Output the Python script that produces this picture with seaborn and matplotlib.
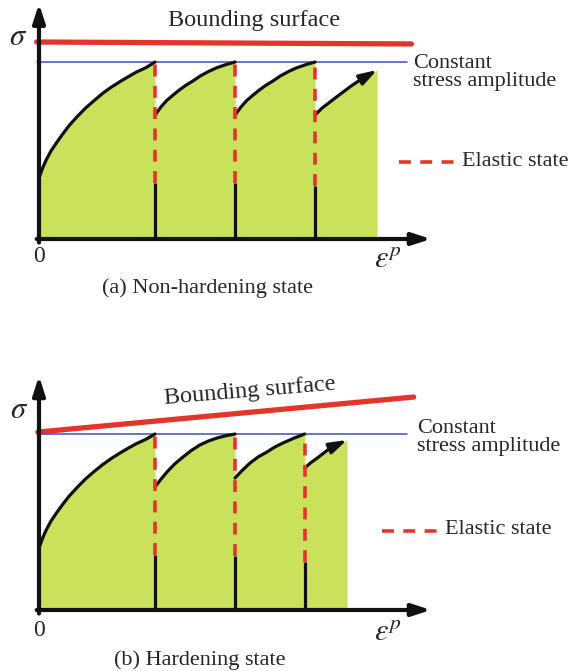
import matplotlib
matplotlib.use("Agg")
import matplotlib.pyplot as plt
import seaborn as sns

sns.set_theme(style="white")
plt.rcParams["font.family"] = ["Liberation Serif", "DejaVu Serif"]
plt.rcParams["mathtext.fontset"] = "stix"

GREEN = "#c9e15b"
RED = "#e5352b"
BLUE = "#3a4cc0"
INK = "#111111"

# ---- panel (a): non-hardening state -------------------------------------
a_seg_x = [
    [0.0, 0.032, 0.060, 0.103, 0.147, 0.204, 0.261, 0.334, 0.405, 0.477,
     0.549, 0.621, 0.693, 0.765, 0.836, 0.922, 1.0],
    [1.0, 1.05, 1.10, 1.15, 1.20, 1.26, 1.32, 1.39, 1.46, 1.53, 1.61, 1.69],
    [1.69, 1.74, 1.79, 1.84, 1.89, 1.95, 2.01, 2.08, 2.15, 2.22, 2.30, 2.38],
    [2.38, 2.44, 2.509, 2.56, 2.621, 2.69, 2.767, 2.914],
]
a_seg_y = [
    [0.345, 0.402, 0.444, 0.497, 0.540, 0.593, 0.642, 0.695, 0.742, 0.783,
     0.823, 0.857, 0.887, 0.915, 0.942, 0.968, 1.0],
    [0.70, 0.745, 0.782, 0.810, 0.837, 0.866, 0.890, 0.921, 0.946, 0.967, 0.985, 1.0],
    [0.70, 0.745, 0.782, 0.810, 0.837, 0.866, 0.890, 0.921, 0.946, 0.967, 0.985, 1.0],
    [0.70, 0.740, 0.774, 0.800, 0.830, 0.864, 0.898, 0.955],
]
a_unload_x = [1.0, 1.69, 2.38]
a_unload_base = [0.316, 0.316, 0.300]
a_bound_x = [-0.02, 3.21]
a_bound_y = [1.113, 1.102]

# ---- panel (b): hardening state ------------------------------------------
b_seg_x = [
    [0.0, 0.032, 0.060, 0.103, 0.147, 0.204, 0.261, 0.334, 0.405, 0.477,
     0.549, 0.621, 0.693, 0.765, 0.836, 0.922, 1.0],
    [1.0, 1.05, 1.103, 1.17, 1.241, 1.31, 1.388, 1.46, 1.534, 1.61, 1.69],
    [1.69, 1.75, 1.819, 1.89, 1.966, 2.03, 2.103, 2.20, 2.29],
    [2.29, 2.345, 2.40, 2.51, 2.655],
]
b_seg_y = [
    [0.352, 0.410, 0.452, 0.505, 0.548, 0.600, 0.648, 0.700, 0.747, 0.788,
     0.826, 0.860, 0.890, 0.918, 0.944, 0.970, 1.0],
    [0.699, 0.742, 0.784, 0.830, 0.869, 0.905, 0.938, 0.960, 0.977, 0.990, 1.0],
    [0.75, 0.792, 0.835, 0.870, 0.898, 0.925, 0.949, 0.977, 1.0],
    [0.807, 0.838, 0.864, 0.920, 0.966],
]
b_unload_x = [1.0, 1.69, 2.29]
b_unload_base = [0.3125, 0.307, 0.273]
b_bound_x = [-0.01, 3.23]
b_bound_y = [1.011, 1.21]

amplitude = 1.0
amp_x_end = 3.17
sigma_top = 1.33
eps_end = 3.38

captions = ["(a) Non-hardening state", "(b) Hardening state"]

W, H = 571, 671
fig = plt.figure(figsize=(W / 100, H / 100), dpi=100)

SX = 116.0  # pixels per strain unit


def make_axes(px_top, px_bottom, origin_x, origin_y, sy):
    ax = fig.add_axes([0, 1 - px_bottom / H, 1, (px_bottom - px_top) / H])
    ax.set_xlim(-origin_x / SX, (W - origin_x) / SX)
    ax.set_ylim((origin_y - px_bottom) / sy, (origin_y - px_top) / sy)
    ax.axis("off")
    return ax


def dashed_red(ax, xs, ys, **kw):
    ln, = ax.plot(xs, ys, color=RED, lw=2.6, solid_capstyle="butt",
                  dash_capstyle="butt", **kw)
    ln.set_dashes((3.3, 2.6))
    return ln


AXIS_HEAD = "-|>,head_length=0.62,head_width=0.2"


def draw_panel(ax, seg_x, seg_y, unload_x, unload_base, bound_x, bound_y,
               caption, txt):
    # shaded plastic-strain region under the loading curves
    fx, fy = [], []
    for xs, ys in zip(seg_x, seg_y):
        fx += xs
        fy += ys
    fx = fx + [fx[-1]]
    fy = fy + [0.0]
    ax.fill_between(fx, 0, fy, color=GREEN, lw=0, zorder=1)

    # loading branches
    for i, (xs, ys) in enumerate(zip(seg_x, seg_y)):
        last = i == len(seg_x) - 1
        px = xs[:-1] if last else xs
        py = ys[:-1] if last else ys
        sns.lineplot(x=px, y=py, ax=ax, color=INK, lw=2.3, sort=False,
                     estimator=None, zorder=4)
        if last:
            ax.annotate("", xy=(xs[-1], ys[-1]), xytext=(xs[-2], ys[-2]),
                        arrowprops=dict(arrowstyle="-|>,head_length=0.75,head_width=0.24",
                                        color=INK, lw=2.3, mutation_scale=14,
                                        shrinkA=0, shrinkB=0), zorder=4)

    # elastic unloading (dashed) and the remaining solid part
    dashed_red(ax, [0, 0], [0, seg_y[0][0]], zorder=5)
    for x, base, ys in zip(unload_x, unload_base, seg_y[:-1]):
        dashed_red(ax, [x, x], [base, ys[-1]], zorder=5)
        ax.plot([x, x], [0, base], color=INK, lw=2.3, solid_capstyle="butt", zorder=5)

    # bounding surface and constant stress amplitude
    sns.lineplot(x=bound_x, y=bound_y, ax=ax, color=RED, lw=3.8, zorder=3)
    ax.plot([-0.02, amp_x_end], [amplitude, amplitude], color=BLUE, lw=1.1, zorder=3)

    # coordinate axes with arrowheads
    ax.annotate("", xy=(0, sigma_top), xytext=(0, -0.02),
                arrowprops=dict(arrowstyle=AXIS_HEAD, color=INK, lw=3.0,
                                mutation_scale=18, shrinkA=0, shrinkB=0), zorder=6)
    ax.annotate("", xy=(eps_end, 0), xytext=(-0.02, 0),
                arrowprops=dict(arrowstyle=AXIS_HEAD, color=INK, lw=3.0,
                                mutation_scale=18, shrinkA=0, shrinkB=0), zorder=6)

    # labels
    ax.text(*txt["sigma"], r"$\sigma$", fontsize=22, ha="center", va="center")
    ax.text(*txt["bound"], "Bounding surface", fontsize=17.5, ha="center",
            va="center", rotation=txt["bound_rot"], rotation_mode="anchor")
    ax.text(*txt["amp"], "Constant\nstress amplitude", fontsize=16, ha="left",
            va="center", linespacing=0.95)
    lx0, lx1, ly = txt["legend"]
    dashed_red(ax, [lx0, lx1], [ly, ly])
    ax.text(*txt["elastic"], "Elastic state", fontsize=16, ha="left", va="center")
    ax.text(*txt["zero"], "0", fontsize=17, ha="center", va="center")
    ax.text(*txt["eps"], r"$\varepsilon^p$", fontsize=22, ha="center", va="center")
    ax.text(*txt["cap"], caption, fontsize=16, ha="center", va="center")


ax_a = make_axes(0, 300, 39, 239, 177.0)
draw_panel(ax_a, a_seg_x, a_seg_y, a_unload_x, a_unload_base, a_bound_x, a_bound_y,
           captions[0],
           dict(sigma=(-0.181, 1.136), bound=(1.853, 1.237), bound_rot=0,
                amp=(3.224, 0.942), legend=(3.103, 3.586, 0.435),
                elastic=(3.647, 0.44), zero=(0, -0.1), eps=(3.01, -0.124),
                cap=(1.45, -0.277)))

ax_b = make_axes(330, 671, 39, 610, 176.0)
draw_panel(ax_b, b_seg_x, b_seg_y, b_unload_x, b_unload_base, b_bound_x, b_bound_y,
           captions[1],
           dict(sigma=(-0.172, 1.136), bound=(1.819, 1.244), bound_rot=4.8,
                amp=(3.259, 0.98), legend=(2.957, 3.44, 0.449),
                elastic=(3.5, 0.455), zero=(0, -0.115), eps=(3.01, -0.136),
                cap=(1.388, -0.284)))

fig.savefig("out.png", dpi=100)
